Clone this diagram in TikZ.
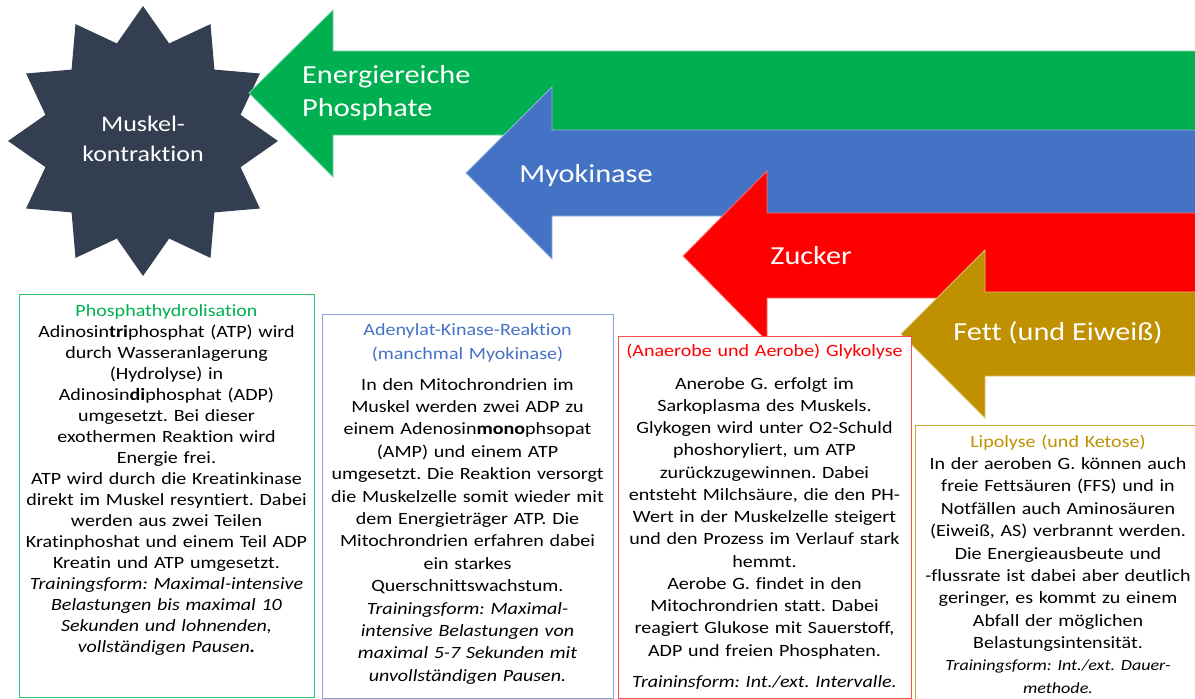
\documentclass[tikz,border=0pt]{standalone}
\usepackage{fontspec}
\setmainfont{Carlito}[FakeStretch=1.165, Ligatures=NoCommon]
\usetikzlibrary{shapes.geometric}
\frenchspacing

\definecolor{starfill}{HTML}{333F50}
\definecolor{cgreen}{HTML}{00B050}
\definecolor{cblue}{HTML}{4472C4}
\definecolor{cred}{HTML}{FF0000}
\definecolor{cgold}{HTML}{BF9000}
\colorlet{boxgreen}{cgreen!80!white}
\colorlet{boxblue}{cblue!65!white}
\colorlet{boxred}{cred!70!white}
\colorlet{boxgold}{cgold!80!white}

\tikzset{
  bigarrow/.style={fill=#1, draw=#1!55!white, line width=0.8pt, line join=miter},
  arrowlabel/.style={text=white, font=\fontsize{26}{33}\selectfont, inner sep=0pt},
  infobox/.style={draw=#1, line width=1.4pt, fill=white, anchor=north west, inner sep=0pt},
  infotext/.style={anchor=base, inner sep=0pt, text width=330pt, align=center,
    font=\fontsize{17.2}{#1}\selectfont},
}

\begin{document}
\begin{tikzpicture}[x=1pt, y=-1pt]
\path[use as bounding box, clip] (0,0) rectangle (1195,699);

% central star
\node[star, star points=12, star point ratio=1.337, minimum size=270pt,
      fill=starfill, inner sep=0pt] (star) at (143,141) {};
\node[anchor=base, text=white, align=center, text width=200pt, inner sep=0pt,
      font=\fontsize{22.3}{30}\selectfont] (startext) at (143,131) {Muskel-\\kontraktion};

% energy-source arrows, back to front
\path[bigarrow=cgreen] (1200,51) -- (333,51) -- (333,10) -- (249,93) -- (333,177) -- (333,135) -- (1200,135) -- cycle;
\path[bigarrow=cblue]  (1200,130) -- (552,130) -- (552,87) -- (466,173) -- (552,259) -- (552,216) -- (1200,216) -- cycle;
\path[bigarrow=cred]   (1200,213) -- (767,213) -- (767,171) -- (683,256) -- (767,341) -- (767,298) -- (1200,298) -- cycle;
\path[bigarrow=cgold]  (1200,292) -- (985,292) -- (985,250) -- (901,334) -- (985,418) -- (985,376) -- (1200,376) -- cycle;

\node[arrowlabel, anchor=base west, align=left, text width=220pt] (lblphos) at (302,83) {Energiereiche\\Phosphate};
\node[arrowlabel, anchor=base] (lblmyo) at (586,182) {Myokinase};
\node[arrowlabel, anchor=base] (lblzucker) at (811,264) {Zucker};
\node[arrowlabel, anchor=base] (lblfett) at (1058,340) {Fett (und Eiweiß)};

% explanation boxes
\node[infobox=boxgreen, minimum width=295pt, minimum height=403pt] (box1) at (19,294) {};
\node[infobox=boxblue,  minimum width=291pt, minimum height=384pt] (box2) at (322,314) {};
\node[infobox=boxred,   minimum width=293pt, minimum height=362pt] (box3) at (618,336) {};
\node[infobox=boxgold,  minimum width=290pt, minimum height=290pt] (box4) at (915,425) {};

\node[infotext=21] (text1) at (166.5,316) {%
\textcolor{cgreen}{Phosphathydrolisation}\\
Adinosin\textbf{tri}phosphat (ATP) wird\\
durch Wasseranlagerung\\
(Hydrolyse) in\\
Adinosin\textbf{di}phosphat (ADP)\\
umgesetzt. Bei dieser\\
exothermen Reaktion wird\\
Energie frei.\\
ATP wird durch die Kreatinkinase\\
direkt im Muskel resyntiert. Dabei\\
werden aus zwei Teilen\\
Kratinphoshat und einem Teil ADP\\
Kreatin und ATP umgesetzt.\\
\textit{Trainingsform: Maximal-intensive}\\
\textit{Belastungen bis maximal 10}\\
\textit{Sekunden und lohnenden,}\\
\textit{vollständigen Pausen\textbf{.}}};

\node[infotext=22.4] (text2) at (467.5,335) {%
\textcolor{cblue}{Adenylat-Kinase-Reaktion}\\[1.6pt]
\textcolor{cblue}{(manchmal Myokinase)}\\[8.6pt]
In den Mitochrondrien im\\
Muskel werden zwei ADP zu\\
einem Adenosin\textbf{mono}phsopat\\
(AMP) und einem ATP\\
umgesetzt. Die Reaktion versorgt\\
die Muskelzelle somit wieder mit\\
dem Energieträger ATP. Die\\
Mitochrondrien erfahren dabei\\
ein starkes\\
Querschnittswachstum.\\
\textit{Trainingsform: Maximal-}\\
\textit{intensive Belastungen von}\\
\textit{maximal 5-7 Sekunden mit}\\
\textit{unvollständigen Pausen.}};

\node[infotext=22.25] (text3) at (764.5,356) {%
\textcolor{cred}{(Anaerobe und Aerobe) Glykolyse}\\[10.75pt]
Anerobe G. erfolgt im\\
Sarkoplasma des Muskels.\\
Glykogen wird unter O2-Schuld\\
phoshoryliert, um ATP\\
zurückzugewinnen. Dabei\\
entsteht Milchsäure, die den PH-\\
Wert in der Muskelzelle steigert\\
und den Prozess im Verlauf stark\\
hemmt.\\
Aerobe G. findet in den\\
Mitochrondrien statt. Dabei\\
reagiert Glukose mit Sauerstoff,\\
ADP und freien Phosphaten.\\[8.75pt]
\textit{Traininsform: Int./ext. Intervalle.}};

\node[infotext=22.4] (text4) at (1058,447) {%
\textcolor{cgold}{Lipolyse (und Ketose)}\\
In der aeroben G. können auch\\
freie Fettsäuren (FFS) und in\\
Notfällen auch Aminosäuren\\
(Eiweiß, AS) verbrannt werden.\\
Die Energieausbeute und\\
-flussrate ist dabei aber deutlich\\
geringer, es kommt zu einem\\
Abfall der möglichen\\
Belastungsintensität.\\[6pt]
\fontsize{15.5}{16}\selectfont\itshape Trainingsform: Int./ext. Dauer-\\
methode.};
\end{tikzpicture}
\end{document}
